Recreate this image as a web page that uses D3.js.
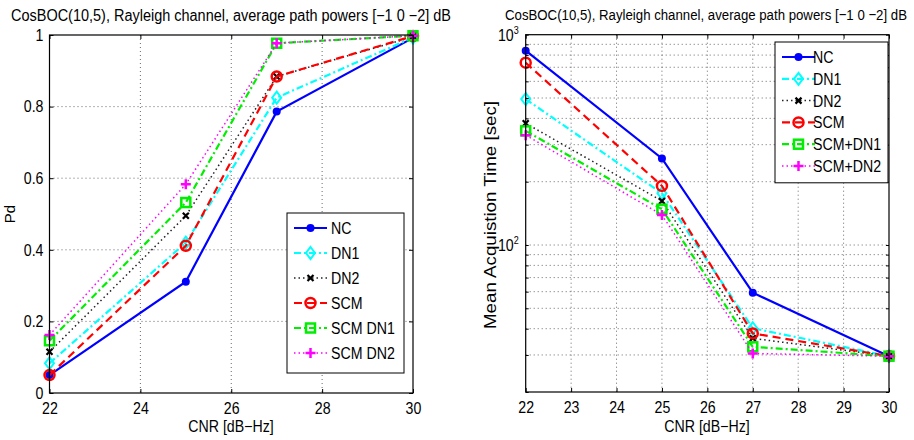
<!DOCTYPE html>
<html><head><meta charset="utf-8">
<script src="https://cdn.jsdelivr.net/npm/d3@7"></script>
<style>
body{margin:0;background:#fff;}
svg{font-family:"Liberation Sans",Arial,sans-serif;}
</style></head>
<body><svg id="c" width="914" height="440"></svg>
<script>
const cnr = [22, 25, 27, 30];
const pdNC     = [0.05, 0.311, 0.786, 0.992];
const pdDN1    = [0.083, 0.42, 0.825, 0.993];
const pdDN2    = [0.115, 0.495, 0.884, 0.995];
const pdSCM    = [0.05, 0.411, 0.884, 0.997];
const pdSCMDN1 = [0.146, 0.532, 0.977, 0.998];
const pdSCMDN2 = [0.162, 0.583, 0.977, 0.998];
const leftNames = ["NC","DN1","DN2","SCM","SCM DN1","SCM DN2"];

const matNC     = [839, 258, 59.3, 29.6];
const matDN1    = [494, 176, 40.2, 29.6];
const matDN2    = [379, 162, 36.0, 29.6];
const matSCM    = [736, 191, 38.0, 29.6];
const matSCMDN1 = [349, 148, 32.8, 29.6];
const matSCMDN2 = [333, 139, 30.5, 29.6];
const rightNames = ["NC","DN1","DN2","SCM","SCM+DN1","SCM+DN2"];

const leftXTicks = [22,24,26,28,30];
const leftYTicks = [0,0.2,0.4,0.6,0.8,1];
const rightXTicks = [22,23,24,25,26,27,28,29,30];
const titleText = "CosBOC(10,5), Rayleigh channel, average path powers [\u22121 0 \u22122] dB";

const styles = [
  {color:"#0000ff", dash:null, w:2.2, marker:"dot"},
  {color:"#00ffff", dash:"7,3,2,3", w:2.2, marker:"diamond"},
  {color:"#222", dash:"1.5,3", w:1.5, marker:"x"},
  {color:"#ff0000", dash:"8,5", w:2.2, marker:"circle"},
  {color:"#00ee00", dash:"7,3,2,3", w:2.2, marker:"square"},
  {color:"#ff00ff", dash:"1.5,3", w:1.5, marker:"plus"}
];
const FS = 16.5, SX = 0.86;

const svg = d3.select("#c");

function htext(g, x, y, str, anchor){
  return g.append("text").attr("transform",`translate(${x},${y}) scale(${SX},1)`)
    .attr("text-anchor",anchor||"start").attr("font-size",FS).text(str);
}

function drawMarker(g, type, color, x, y){
  if(type==="dot"){
    g.append("circle").attr("cx",x).attr("cy",y).attr("r",4).attr("fill",color);
  } else if(type==="diamond"){
    g.append("path").attr("d",`M${x},${y-6}L${x+4.5},${y}L${x},${y+6}L${x-4.5},${y}Z`)
      .attr("fill","none").attr("stroke",color).attr("stroke-width",2);
  } else if(type==="x"){
    g.append("path").attr("d",`M${x-3},${y-3}L${x+3},${y+3}M${x-3},${y+3}L${x+3},${y-3}`)
      .attr("stroke","#000").attr("stroke-width",2.2);
  } else if(type==="circle"){
    g.append("circle").attr("cx",x).attr("cy",y).attr("r",5).attr("fill","none").attr("stroke",color).attr("stroke-width",2.5);
  } else if(type==="square"){
    g.append("rect").attr("x",x-4.5).attr("y",y-4.5).attr("width",9).attr("height",9)
      .attr("fill","none").attr("stroke",color).attr("stroke-width",2.5);
  } else if(type==="plus"){
    g.append("path").attr("d",`M${x-5},${y}L${x+5},${y}M${x},${y-5}L${x},${y+5}`)
      .attr("stroke",color).attr("stroke-width",2.5);
  }
}

function drawSeries(g, x, y, data){
  data.forEach((vals,i)=>{
    const s = styles[i];
    const line = d3.line().x((d,j)=>x(cnr[j])).y(d=>y(d));
    g.append("path").datum(vals).attr("d",line).attr("fill","none")
      .attr("stroke",s.color).attr("stroke-width",s.w)
      .attr("stroke-dasharray",s.dash);
    vals.forEach((v,j)=>drawMarker(g,s.marker,s.color,x(cnr[j]),y(v)));
  });
}

function drawLegend(g, names, x0, y0, w, rowH, textX){
  const h = rowH*names.length + 10;
  g.append("rect").attr("x",x0).attr("y",y0).attr("width",w).attr("height",h)
    .attr("fill","#fff").attr("stroke","#000").attr("stroke-width",1);
  names.forEach((n,i)=>{
    const s = styles[i];
    const yy = y0 + 15 + i*rowH;
    g.append("line").attr("x1",x0+7).attr("x2",x0+40).attr("y1",yy).attr("y2",yy)
      .attr("stroke",s.color).attr("stroke-width",s.w).attr("stroke-dasharray",s.dash);
    drawMarker(g,s.marker,s.color,x0+23.5,yy);
    htext(g, x0+textX, yy+6, n);
  });
}

function styleAxis(a){
  a.select(".domain").remove();
  a.selectAll("text").attr("font-size",FS).attr("fill","#000")
    .attr("font-family","Liberation Sans, Arial, sans-serif")
    .attr("transform",`scale(${SX},1)`);
}

// ---------- Left plot ----------
{
  const L=49.5, R=413, T=35, B=393;
  const x = d3.scaleLinear().domain([22,30]).range([L,R]);
  const y = d3.scaleLinear().domain([0,1]).range([B,T]);
  const g = svg.append("g");
  leftXTicks.slice(1,-1).forEach(t=>g.append("line").attr("x1",x(t)).attr("x2",x(t)).attr("y1",T).attr("y2",B)
    .attr("stroke","#444").attr("stroke-width",0.8).attr("stroke-dasharray","1,3"));
  leftYTicks.slice(1,-1).forEach(t=>g.append("line").attr("x1",L).attr("x2",R).attr("y1",y(t)).attr("y2",y(t))
    .attr("stroke","#444").attr("stroke-width",0.8).attr("stroke-dasharray","1,3"));
  drawSeries(g,x,y,[pdNC,pdDN1,pdDN2,pdSCM,pdSCMDN1,pdSCMDN2]);
  g.append("rect").attr("x",L).attr("y",T).attr("width",R-L).attr("height",B-T).attr("fill","none").attr("stroke","#000").attr("stroke-width",1.2);
  const xa = g.append("g").attr("transform",`translate(${0},${B})`).call(d3.axisBottom(x).tickValues(leftXTicks).tickSize(-4).tickPadding(9).tickFormat(d3.format("d")));
  const xa2 = g.append("g").attr("transform",`translate(0,${T})`).call(d3.axisTop(x).tickValues(leftXTicks).tickSize(-4).tickFormat(""));
  const ya = g.append("g").attr("transform",`translate(${L},0)`).call(d3.axisLeft(y).tickValues(leftYTicks).tickSize(-4).tickPadding(7).tickFormat(d=>d===0||d===1?d3.format("d")(d):d3.format(".1f")(d)));
  const ya2 = g.append("g").attr("transform",`translate(${R},0)`).call(d3.axisRight(y).tickValues(leftYTicks).tickSize(-4).tickFormat(""));
  [xa,xa2,ya,ya2].forEach(styleAxis);
  drawLegend(g,leftNames,287,213,117,25,44);
  g.append("text").attr("x",231).attr("y",21).attr("text-anchor","middle").attr("font-size",16)
    .attr("textLength",440).attr("lengthAdjust","spacingAndGlyphs").text(titleText);
  htext(g,231,432,"CNR [dB\u2212Hz]","middle");
  g.append("text").attr("transform","translate(15,214) rotate(-90)").attr("text-anchor","middle").attr("font-size",15).text("Pd");
}

// ---------- Right plot ----------
{
  const L=525.7, R=889, T=34.7, B=392;
  const x = d3.scaleLinear().domain([22,30]).range([L,R]);
  const y = d3.scaleLog().domain([20,1000]).range([B,T]);
  const g = svg.append("g");
  const minor = [20,30,40,50,60,70,80,90,100,200,300,400,500,600,700,800,900];
  rightXTicks.slice(1,-1).forEach(t=>g.append("line").attr("x1",x(t)).attr("x2",x(t)).attr("y1",T).attr("y2",B)
    .attr("stroke","#444").attr("stroke-width",0.8).attr("stroke-dasharray","1,3"));
  minor.slice(1).forEach(t=>g.append("line").attr("x1",L).attr("x2",R).attr("y1",y(t)).attr("y2",y(t))
    .attr("stroke","#444").attr("stroke-width",0.8).attr("stroke-dasharray","1,3"));
  drawSeries(g,x,y,[matNC,matDN1,matDN2,matSCM,matSCMDN1,matSCMDN2]);
  g.append("rect").attr("x",L).attr("y",T).attr("width",R-L).attr("height",B-T).attr("fill","none").attr("stroke","#000").attr("stroke-width",1.2);
  const xa = g.append("g").attr("transform",`translate(0,${B})`).call(d3.axisBottom(x).tickValues(rightXTicks).tickSize(-4).tickPadding(9).tickFormat(d3.format("d")));
  const xa2 = g.append("g").attr("transform",`translate(0,${T})`).call(d3.axisTop(x).tickValues(rightXTicks).tickSize(-4).tickFormat(""));
  const ya = g.append("g").attr("transform",`translate(${L},0)`).call(d3.axisLeft(y).tickValues(minor.concat([1000])).tickSize(-3).tickFormat(""));
  const ya2 = g.append("g").attr("transform",`translate(${R},0)`).call(d3.axisRight(y).tickValues(minor.concat([1000])).tickSize(-3).tickFormat(""));
  [xa,xa2,ya,ya2].forEach(styleAxis);
  [100,1000].forEach(v=>{
    const t = g.append("text").attr("transform",`translate(${L-7},${y(v)+6}) scale(${SX},1)`).attr("text-anchor","end").attr("font-size",FS);
    t.append("tspan").text("10");
    t.append("tspan").attr("dy",-7).attr("font-size",10.5).text(Math.round(Math.log10(v)));
  });
  drawLegend(g,rightNames,775,42,113,21.8,38);
  g.append("text").attr("x",706).attr("y",20).attr("text-anchor","middle").attr("font-size",15.5)
    .attr("textLength",402).attr("lengthAdjust","spacingAndGlyphs").text(titleText);
  htext(g,707,432,"CNR [dB\u2212Hz]","middle");
  g.append("text").attr("transform","translate(496,215) rotate(-90)").attr("text-anchor","middle").attr("font-size",16)
    .attr("textLength",228).attr("lengthAdjust","spacingAndGlyphs").text("Mean Acquistion Time [sec]");
}
</script></body></html>
